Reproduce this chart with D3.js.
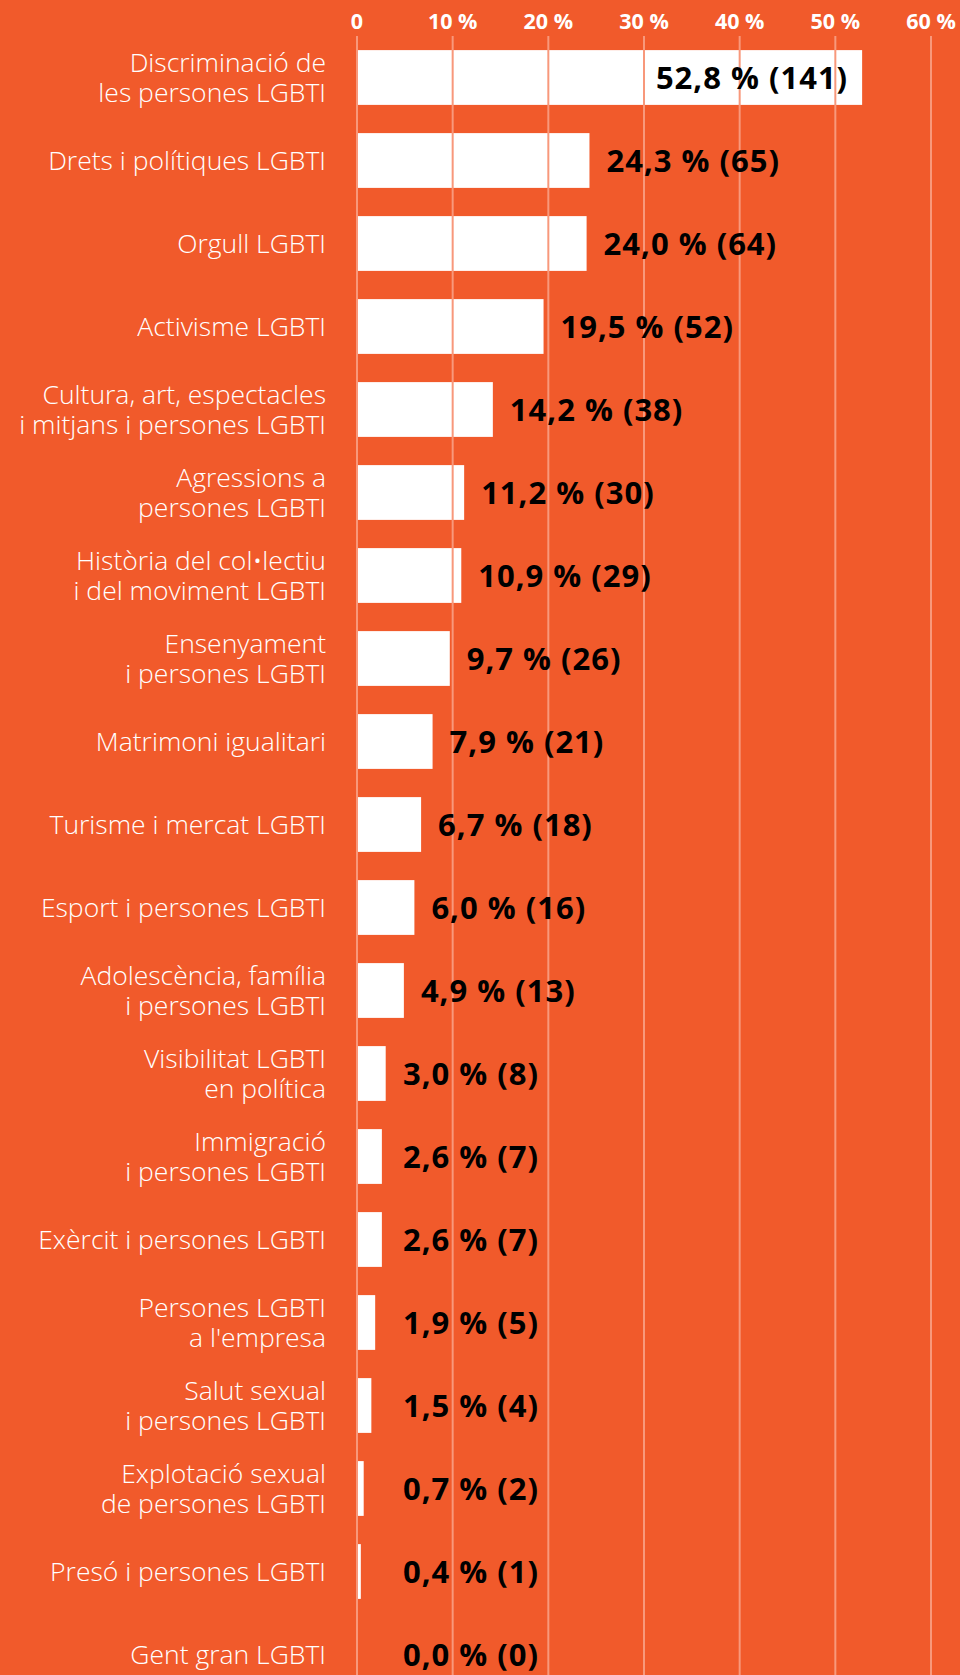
<!DOCTYPE html>
<meta charset="utf-8">
<style>
body { margin: 0; background: #f15a2b; }
svg { display: block; }
.cat { font-family: "Open Sans", sans-serif; font-weight: 300; font-size: 26.5px; fill: #fff; }
.val { font-family: "Open Sans", sans-serif; font-weight: 700; font-size: 31px; letter-spacing: 1px; fill: #000; }
.tick-label { font-family: "Open Sans", sans-serif; font-weight: 700; font-size: 21.5px; fill: #fff; }
.grid { stroke: #f8987b; stroke-width: 2px; }
</style>
<svg width="960" height="1675"></svg>
<script src="https://cdn.jsdelivr.net/npm/d3@7"></script>
<script>
// categories (label lines)
var categories = [
  ["Discriminació de", "les persones LGBTI"],
  ["Drets i polítiques LGBTI"],
  ["Orgull LGBTI"],
  ["Activisme LGBTI"],
  ["Cultura, art, espectacles", "i mitjans i persones LGBTI"],
  ["Agressions a", "persones LGBTI"],
  ["Història del col•lectiu", "i del moviment LGBTI"],
  ["Ensenyament", "i persones LGBTI"],
  ["Matrimoni igualitari"],
  ["Turisme i mercat LGBTI"],
  ["Esport i persones LGBTI"],
  ["Adolescència, família", "i persones LGBTI"],
  ["Visibilitat LGBTI", "en política"],
  ["Immigració", "i persones LGBTI"],
  ["Exèrcit i persones LGBTI"],
  ["Persones LGBTI", "a l'empresa"],
  ["Salut sexual", "i persones LGBTI"],
  ["Explotació sexual", "de persones LGBTI"],
  ["Presó i persones LGBTI"],
  ["Gent gran LGBTI"]
];
var percents = [52.8, 24.3, 24.0, 19.5, 14.2, 11.2, 10.9, 9.7, 7.9, 6.7, 6.0, 4.9, 3.0, 2.6, 2.6, 1.9, 1.5, 0.7, 0.4, 0.0];
var counts = [141, 65, 64, 52, 38, 30, 29, 26, 21, 18, 16, 13, 8, 7, 7, 5, 4, 2, 1, 0];
var ticks = [0, 10, 20, 30, 40, 50, 60];

var data = categories.map(function(c, i) {
  return {lines: c, pct: percents[i], n: counts[i], i: i};
});

var svg = d3.select("svg");

var x = d3.scaleLinear().domain([0, 60]).range([357, 931]);
var y = d3.scaleBand()
    .domain(d3.range(data.length))
    .range([36, 36 + 83 * data.length])
    .paddingInner(0.34)
    .paddingOuter(0.17);

var fmt = function(v) { return d3.format(".1f")(v).replace(".", ","); };

// bars
svg.append("g").selectAll("rect")
  .data(data)
  .enter().append("rect")
    .attr("x", x(0))
    .attr("y", function(d) { return y(d.i); })
    .attr("width", function(d) { return x(d.pct) - x(0); })
    .attr("height", y.bandwidth())
    .attr("fill", "#fff");

// gridlines drawn over bars
svg.append("g").selectAll("line")
  .data(ticks)
  .enter().append("line")
    .attr("class", "grid")
    .attr("x1", function(d) { return x(d); })
    .attr("x2", function(d) { return x(d); })
    .attr("y1", 36)
    .attr("y2", 1675);

svg.append("g").selectAll("text")
  .data(ticks)
  .enter().append("text")
    .attr("class", "tick-label")
    .attr("x", function(d) { return x(d); })
    .attr("y", 29)
    .attr("text-anchor", "middle")
    .text(function(d) { return d === 0 ? "0" : d + " %"; });

// category labels
var cat = svg.append("g").selectAll("text")
  .data(data)
  .enter().append("text")
    .attr("class", "cat")
    .attr("text-anchor", "end")
    .attr("transform", function(d) {
      var cy = y(d.i) + y.bandwidth() / 2 - (d.lines.length - 1) * 15;
      return "translate(326," + cy + ")";
    });
cat.selectAll("tspan")
  .data(function(d) { return d.lines; })
  .enter().append("tspan")
    .attr("x", 0)
    .attr("y", function(d, j) { return j * 30; })
    .attr("dy", "0.35em")
    .text(function(d) { return d; });

// value labels
svg.append("g").selectAll("text")
  .data(data)
  .enter().append("text")
    .attr("class", "val")
    .attr("dy", "0.36em")
    .attr("y", function(d) { return y(d.i) + y.bandwidth() / 2; })
    .attr("text-anchor", function(d) { return d.pct > 40 ? "end" : "start"; })
    .attr("x", function(d) {
      if (d.pct > 40) return x(d.pct) - 14;
      return Math.max(x(d.pct) + 17, x(0) + 46);
    })
    .text(function(d) { return fmt(d.pct) + " % (" + d.n + ")"; });
</script>
